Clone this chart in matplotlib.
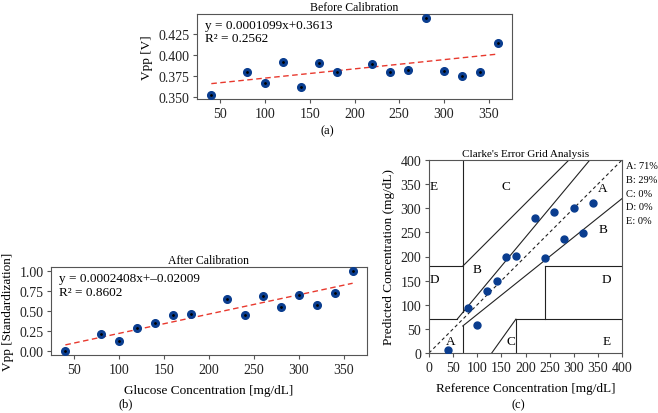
import numpy as np
import matplotlib.pyplot as plt

# --- DATA ---
glucose = [40, 80, 100, 120, 140, 160, 180, 220, 240, 260, 280, 300, 320, 340, 360]
vpp_before = [0.352, 0.379, 0.366, 0.391, 0.362, 0.390, 0.379, 0.389, 0.379, 0.382,
              0.444, 0.381, 0.375, 0.380, 0.414]
vpp_after = [0.00, 0.21, 0.12, 0.285, 0.345, 0.456, 0.464, 0.651, 0.451, 0.686,
             0.553, 0.702, 0.579, 0.728, 1.00]

fit_before = (0.0001099, 0.3613)
fit_after = (0.002408, -0.02009)   # line as drawn in the figure
eq_before = "y = 0.0001099x+0.3613\nR\u00b2 = 0.2562"
eq_after = "y = 0.0002408x+\u20130.02009\nR\u00b2 = 0.8602"
glucose_ticks = [50, 100, 150, 200, 250, 300, 350]

ref_conc = [40, 80, 100, 120, 140, 160, 180, 220, 240, 260, 280, 300, 320, 340]
pred_conc = [7, 94, 59, 128, 150, 198, 201, 279, 196, 293, 237, 301, 249, 310]
zone_pct = ["A: 71%", "B: 29%", "C: 0%", "D: 0%", "E: 0%"]

# --- STYLE ---
plt.rcParams['font.family'] = ['Liberation Serif', 'DejaVu Serif']
plt.rcParams['font.size'] = 9
plt.rcParams['xtick.labelsize'] = 10
plt.rcParams['ytick.labelsize'] = 10
plt.rcParams['axes.edgecolor'] = '#555555'
plt.rcParams['xtick.color'] = '#555555'
plt.rcParams['ytick.color'] = '#555555'
plt.rcParams['xtick.labelcolor'] = '#222222'
plt.rcParams['ytick.labelcolor'] = '#222222'
plt.rcParams['xtick.major.size'] = 3
plt.rcParams['ytick.major.size'] = 3
plt.rcParams['xtick.major.pad'] = 2.5
plt.rcParams['ytick.major.pad'] = 2.5
DOT = '#0a3d8f'
RED = '#e8392e'
W, H = 658, 414

fig = plt.figure(figsize=(W / 100, H / 100), dpi=100)

def box(l, t, r, b):
    return [l / W, 1 - b / H, (r - l) / W, (b - t) / H]

def scatter_fit(ax, x, y, fit, eq):
    x = np.array(x)
    ax.plot(x, y, 'o', color=DOT, ms=5.5, zorder=3)
    ax.plot(x, y, '.', color='black', ms=2, zorder=4)
    xs = np.array([x.min(), x.max()])
    ax.plot(xs, fit[0] * xs + fit[1], '--', color=RED, lw=1, dashes=(4, 2.5), zorder=2)
    ax.text(0.025, 0.94, eq, transform=ax.transAxes, va='top', ha='left',
            fontsize=9.5, linespacing=1.15)
    ax.set_xticks(glucose_ticks)

# (a) before calibration
ax1 = fig.add_axes(box(197, 15, 512, 100))
scatter_fit(ax1, glucose, vpp_before, fit_before, eq_before)
ax1.set_yticks([0.350, 0.375, 0.400, 0.425])
ax1.set_yticklabels(['0.350', '0.375', '0.400', '0.425'])
ax1.set_ylabel('Vpp [V]', fontsize=9.5, labelpad=4)
ax1.set_title('Before Calibration', fontsize=8.5, pad=3)
fig.text(327 / W, 1 - 131 / H, '(a)', ha='center', va='center', fontsize=9)

# (b) after calibration
ax2 = fig.add_axes(box(51, 268, 367, 356))
scatter_fit(ax2, glucose, vpp_after, fit_after, eq_after)
ax2.set_yticks([0, 0.25, 0.5, 0.75, 1.0])
ax2.set_yticklabels(['0.00', '0.25', '0.50', '0.75', '1.00'])
ax2.set_ylabel('Vpp [Standardization]', fontsize=9.5, labelpad=4)
ax2.set_xlabel('Glucose Concentration [mg/dL]', fontsize=9.5, labelpad=6)
ax2.set_title('After Calibration', fontsize=8.5, pad=3)
fig.text(126 / W, 1 - 404 / H, '(b)', ha='center', va='center', fontsize=9)

# (c) Clarke error grid
ax3 = fig.add_axes(box(429, 161, 622, 354))
ax3.plot(ref_conc, pred_conc, 'o', color=DOT, ms=5, zorder=3)
k = dict(color='#222222', lw=0.8)
ax3.plot([0, 400], [0, 400], '--', color='#222222', lw=0.8, dashes=(3, 2.5))
ax3.plot([0, 175 / 3], [70, 70], **k)
ax3.plot([175 / 3, 400 / 1.2], [70, 400], **k)
ax3.plot([70, 70], [84, 400], **k)
ax3.plot([0, 70], [180, 180], **k)
ax3.plot([70, 290], [180, 400], **k)
ax3.plot([70, 70], [0, 56], **k)
ax3.plot([70, 400], [56, 320], **k)
ax3.plot([180, 180], [0, 70], **k)
ax3.plot([180, 400], [70, 70], **k)
ax3.plot([240, 240], [70, 180], **k)
ax3.plot([240, 400], [180, 180], **k)
ax3.plot([130, 180], [0, 70], **k)
zone_txt = [(45, 25, 'A'), (359, 343, 'A'), (100, 175, 'B'), (361, 256, 'B'),
            (159, 346, 'C'), (169, 25, 'C'), (12, 154, 'D'), (368, 154, 'D'),
            (10, 346, 'E'), (368, 25, 'E')]
for zx, zy, zl in zone_txt:
    ax3.text(zx, zy, zl, ha='center', va='center', fontsize=9.5)
ax3.set_xlim(0, 400)
ax3.set_ylim(0, 400)
ax3.set_xticks(range(0, 401, 50))
ax3.set_yticks(range(0, 401, 50))
ax3.set_xlabel('Reference Concentration [mg/dL]', fontsize=9.5, labelpad=6)
ax3.set_ylabel('Predicted Concentration (mg/dL)', fontsize=9.5, labelpad=4)
ax3.set_title("Clarke's Error Grid Analysis", fontsize=8, pad=3)
for i, s in enumerate(zone_pct):
    fig.text(626 / W, 1 - (167 + i * 13.6) / H, s, ha='left', va='center', fontsize=7.5)
fig.text(518 / W, 1 - 405 / H, '(c)', ha='center', va='center', fontsize=9)

fig.savefig('out.png', dpi=100)
